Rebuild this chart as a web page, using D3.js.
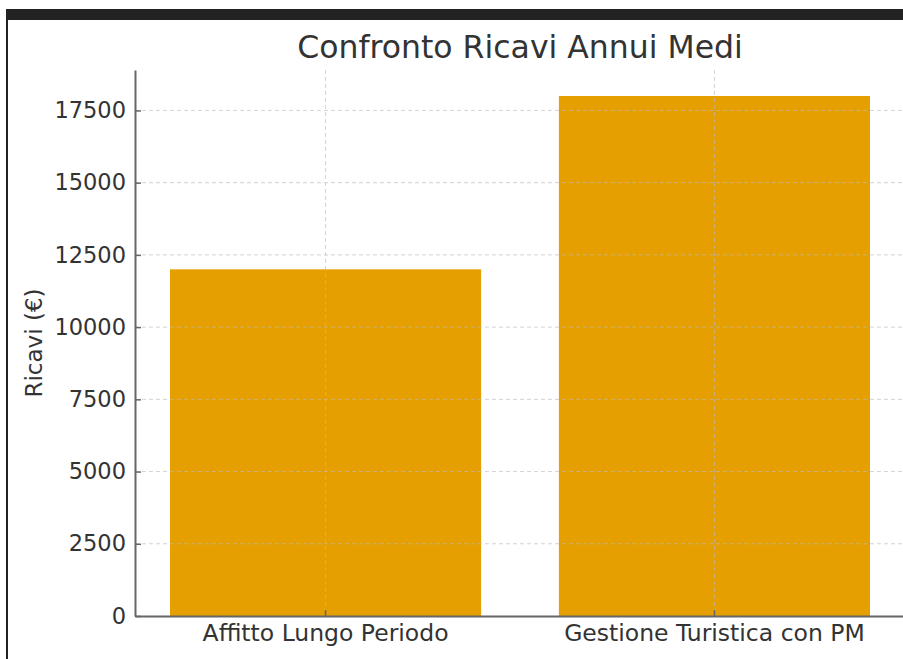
<!DOCTYPE html>
<html>
<head>
<meta charset="utf-8">
<script src="https://cdn.jsdelivr.net/npm/d3@7"></script>
<style>
  body { margin: 0; background: #fff; }
  text { font-family: "DejaVu Sans", sans-serif; fill: #333; }
</style>
</head>
<body>
<svg id="chart" width="903" height="659"></svg>
<script>
const categories = ['Affitto Lungo Periodo', 'Gestione Turistica con PM'];
const values = [12000, 18000];
const yTicks = [0, 2500, 5000, 7500, 10000, 12500, 15000, 17500];
const title = 'Confronto Ricavi Annui Medi';
const yLabel = 'Ricavi (€)';

const svg = d3.select('#chart');

// frame pieces around the screenshot
svg.append('rect').attr('x', 6).attr('y', 9).attr('width', 897).attr('height', 11).attr('fill', '#222');
svg.append('rect').attr('x', 6).attr('y', 20).attr('width', 2).attr('height', 639).attr('fill', '#222');

const m = {left: 135, right: 905, top: 70, bottom: 616};

const x = d3.scaleBand().domain(categories)
  .range([m.left, m.right]).paddingInner(0.2).paddingOuter(0.09);
const y = d3.scaleLinear().domain([0, 18900]).range([m.bottom, m.top]);

// bars
svg.append('g').selectAll('rect').data(values).enter().append('rect')
  .attr('x', (d, i) => x(categories[i]))
  .attr('y', d => y(d))
  .attr('width', x.bandwidth())
  .attr('height', d => y(0) - y(d))
  .attr('fill', '#E69F00');

// grid (drawn over bars)
const grid = svg.append('g').attr('stroke', '#bbb').attr('stroke-dasharray', '4,3')
  .attr('stroke-width', 0.8).attr('opacity', 0.8);
grid.selectAll('.h').data(yTicks.slice(1)).enter().append('line')
  .attr('x1', m.left).attr('x2', m.right)
  .attr('y1', d => y(d)).attr('y2', d => y(d));
grid.selectAll('.v').data(categories).enter().append('line')
  .attr('x1', d => x(d) + x.bandwidth() / 2).attr('x2', d => x(d) + x.bandwidth() / 2)
  .attr('y1', m.top).attr('y2', m.bottom);

// y axis
const yAxis = svg.append('g').attr('transform', `translate(${m.left},0)`)
  .call(d3.axisLeft(y).tickValues(yTicks).tickFormat(d3.format('d'))
    .tickSizeInner(-6).tickSizeOuter(0).tickPadding(9));
yAxis.select('.domain').attr('stroke', '#666').attr('stroke-width', 2);
yAxis.selectAll('.tick line').attr('stroke', '#666').attr('stroke-width', 1.5);
yAxis.selectAll('text').attr('font-size', 22.5).style('fill', '#333');

// x axis
const xAxis = svg.append('g').attr('transform', `translate(0,${m.bottom})`)
  .call(d3.axisBottom(x).tickSizeInner(-6).tickSizeOuter(0).tickPadding(8));
xAxis.select('.domain').attr('stroke', '#666').attr('stroke-width', 2);
xAxis.selectAll('.tick line').attr('stroke', '#666').attr('stroke-width', 1.5);
xAxis.selectAll('text').attr('font-size', 23.5).style('fill', '#333');

// title and label
svg.append('text').attr('x', (m.left + m.right) / 2).attr('y', 58)
  .attr('text-anchor', 'middle').attr('font-size', 31.5).text(title);
svg.append('text').attr('transform', 'translate(42,343) rotate(-90)')
  .attr('text-anchor', 'middle').attr('font-size', 23).text(yLabel);
</script>
</body>
</html>
